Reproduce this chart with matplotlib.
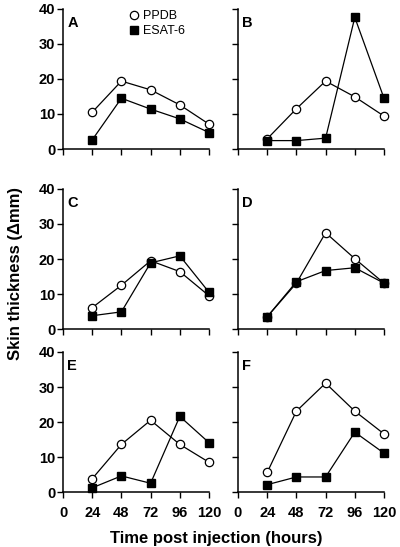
"""Skin thickness after PPDB / ESAT-6 injection, six panels."""

import matplotlib
matplotlib.use("Agg")
import matplotlib.pyplot as plt
from matplotlib.lines import Line2D

plt.rcParams["font.family"] = ["Liberation Sans", "DejaVu Sans"]

HOURS = [24, 48, 72, 96, 120]
PANEL_LABELS = ["A", "B", "C", "D", "E", "F"]

ppdb_a = [10.5, 19.4, 16.9, 12.6, 7.1]
esat_a = [2.6, 14.5, 11.4, 8.6, 4.7]
ppdb_b = [2.9, 11.5, 19.4, 14.9, 9.4]
esat_b = [2.4, 2.4, 3.1, 37.6, 14.5]
ppdb_c = [6.1, 12.5, 19.5, 16.4, 9.5]
esat_c = [3.8, 4.9, 18.9, 20.9, 10.5]
ppdb_d = [3.5, 13.1, 27.5, 20.1, 13.1]
esat_d = [3.5, 13.5, 16.7, 17.5, 13.1]
ppdb_e = [3.8, 13.6, 20.5, 13.6, 8.5]
esat_e = [1.2, 4.6, 2.5, 21.6, 14.1]
ppdb_f = [5.6, 23.1, 31.1, 23.1, 16.6]
esat_f = [2.1, 4.3, 4.3, 17.1, 11.1]

PPDB = [ppdb_a, ppdb_b, ppdb_c, ppdb_d, ppdb_e, ppdb_f]
ESAT = [esat_a, esat_b, esat_c, esat_d, esat_e, esat_f]

X_TICKS = [0, 24, 48, 72, 96, 120]
Y_TICKS = [0, 10, 20, 30, 40]

fig = plt.figure(figsize=(4.0, 5.47), dpi=100)

lefts = [0.1575, 0.595]
width = 0.365
bottoms = [0.7276, 0.3985, 0.1005]
height = 0.256

for i, label in enumerate(PANEL_LABELS):
    row, col = divmod(i, 2)
    ax = fig.add_axes([lefts[col], bottoms[row], width, height])
    ax.plot(HOURS, PPDB[i], color="black", lw=0.9, marker="o", ms=6,
            mfc="white", mec="black", mew=0.9, clip_on=False, zorder=3)
    ax.plot(HOURS, ESAT[i], color="black", lw=0.9, marker="s", ms=6.3,
            mfc="black", mec="black", clip_on=False, zorder=4)
    ax.set_xlim(0, 120)
    ax.set_ylim(0, 40)
    ax.set_xticks(X_TICKS)
    ax.set_yticks(Y_TICKS)
    for side in ("top", "right"):
        ax.spines[side].set_visible(False)
    for side in ("left", "bottom"):
        ax.spines[side].set_linewidth(1.1)
    ax.tick_params(direction="out", length=4, width=1.0, labelsize=10.5)
    ax.tick_params(axis="x", pad=6)
    ax.tick_params(axis="y", pad=1.5)
    for t in ax.get_xticklabels() + ax.get_yticklabels():
        t.set_fontweight("bold")
    if col == 1:
        ax.set_yticklabels([])
    if row < 2:
        ax.set_xticklabels([])
    ax.text(0.03, 0.95, label, transform=ax.transAxes, ha="left", va="top",
            fontsize=10.5, fontweight="bold")
    if i == 0:
        handles = [
            Line2D([], [], ls="none", marker="o", ms=6, mfc="white", mec="black", mew=0.9),
            Line2D([], [], ls="none", marker="s", ms=6.3, mfc="black", mec="black"),
        ]
        ax.legend(handles, ["PPDB", "ESAT-6"], loc="upper left",
                  bbox_to_anchor=(0.45, 0.99), frameon=False, fontsize=9,
                  handlelength=0.8, handletextpad=0.35, labelspacing=0.25,
                  borderpad=0, borderaxespad=0)

fig.text(0.04, 0.5, "Skin thickness (\u0394mm)", rotation=90, ha="center",
         va="center", fontsize=12, fontweight="bold")
fig.text(0.54, 0.007, "Time post injection (hours)", ha="center", va="baseline",
         fontsize=12, fontweight="bold")

fig.savefig("out.png", dpi=100)
